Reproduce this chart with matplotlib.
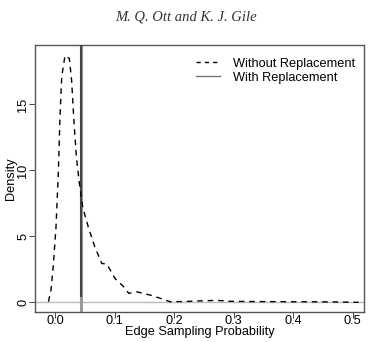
import matplotlib
matplotlib.use("Agg")
import matplotlib.pyplot as plt
import numpy as np
from matplotlib.lines import Line2D

# Data
wo_x = [-0.011, -0.0067, -0.003, 0.0017, 0.0056, 0.0084, 0.0113, 0.0168, 0.024, 0.028,
        0.032, 0.036, 0.041, 0.0466, 0.056, 0.067, 0.0785, 0.087, 0.101, 0.115, 0.124,
        0.137, 0.16, 0.182, 0.193, 0.215, 0.238, 0.272, 0.294, 0.33, 0.38, 0.43, 0.47, 0.51]
wo_y = [0.05, 0.93, 2.7, 5.7, 9.8, 14.1, 17.1, 18.7, 18.5, 16.8,
        13.6, 11.0, 9.0, 7.2, 5.7, 4.2, 2.95, 2.9, 1.8, 1.2, 0.68,
        0.8, 0.55, 0.23, 0.05, 0.06, 0.1, 0.15, 0.08, 0.06, 0.05, 0.04, 0.03, 0.0]
with_x = 0.043
xticks = [0.0, 0.1, 0.2, 0.3, 0.4, 0.5]
yticks = [0, 5, 10, 15]

plt.rcParams['font.family'] = ['Liberation Sans', 'DejaVu Sans']
fig = plt.figure(figsize=(3.71, 3.42), dpi=100)
ax = fig.add_axes([0.0943, 0.0886, 0.8867, 0.7794])

ax.axhline(0, color='#bbbbbb', lw=1.0, zorder=1)
ax.axvline(with_x, color='#999999', lw=2.2, zorder=2)
ax.axvline(with_x, ymin=0.06, color='#444444', lw=1.5, zorder=3)
ax.plot(wo_x, wo_y, color='black', lw=1.0, dashes=(4, 3.5), zorder=4)

ax.set_xlim(-0.0336, 0.519)
ax.set_ylim(-0.71, 19.5)
ax.set_xticks(xticks)
ax.set_xticklabels([f"{v:.1f}" for v in xticks])
ax.set_yticks(yticks)
ax.set_yticklabels([str(v) for v in yticks], rotation=90, va='center')
ax.tick_params(labelsize=9.2, length=4, width=0.7, color='#444444')
ax.tick_params(axis='x', pad=-1.5)
ax.tick_params(axis='y', pad=0)
for s in ax.spines.values():
    s.set_color('#555555')
    s.set_linewidth(1.0)
ax.set_xlabel("Edge Sampling Probability", fontsize=9.2, labelpad=-1)
ax.set_ylabel("Density", fontsize=9.2, labelpad=0)

handles = [Line2D([], [], color='black', lw=1.0, dashes=(3, 3)),
           Line2D([], [], color='#777777', lw=1.0)]
ax.legend(handles, ["Without Replacement", "With Replacement"], loc='upper right',
          bbox_to_anchor=(1.012, 1.0), frameon=False, fontsize=9.2,
          handlelength=1.9, handletextpad=1.0,
          borderaxespad=0.6, labelspacing=0.15)

fig.text(0.5, 0.95, "M. Q. Ott and K. J. Gile", ha='center', va='center',
         fontsize=10.5, style='italic', family=['Liberation Serif', 'DejaVu Serif'],
         color='#333333')

fig.savefig("out.png", dpi=100)
